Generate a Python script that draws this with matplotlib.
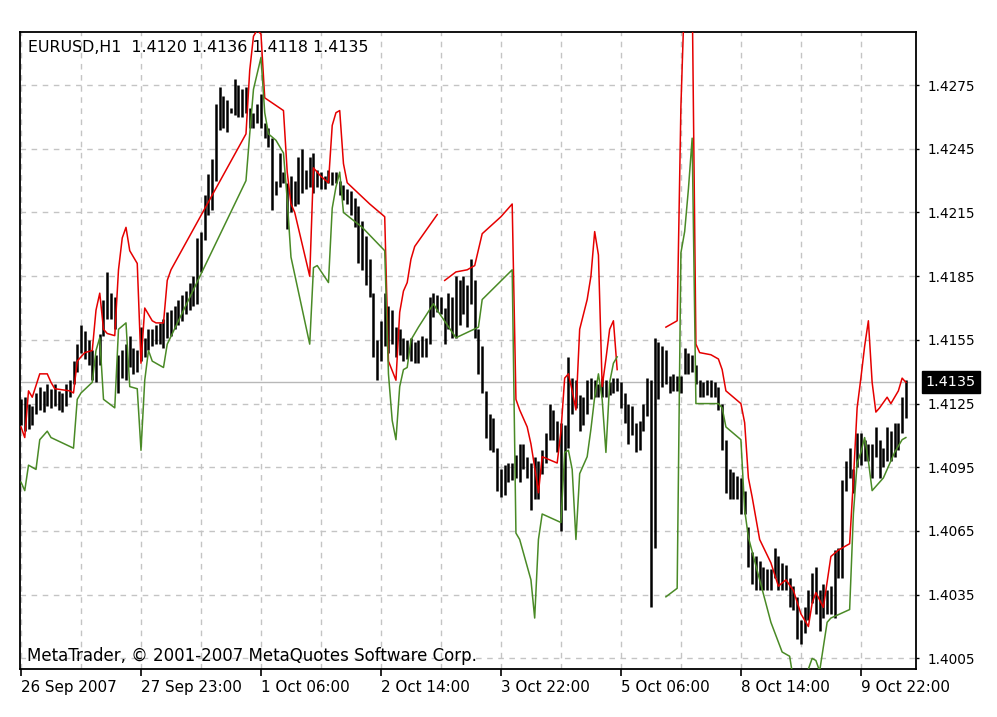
import numpy as np
import matplotlib.pyplot as plt
import matplotlib.transforms as mtransforms

# hourly bars, EURUSD H1 (high / low per bar)
bar_high = [
    1.4127, 1.4128, 1.4125, 1.4124, 1.4130, 1.4133, 1.4131, 1.4134, 1.4132, 1.4134,
    1.4131, 1.4130, 1.4134, 1.4136, 1.4145, 1.4153, 1.4162, 1.4159, 1.4155, 1.4150,
    1.4148, 1.4158, 1.4174, 1.4187, 1.4177, 1.4175, 1.4148, 1.4150, 1.4153, 1.4157,
    1.4151, 1.4150, 1.4161, 1.4156, 1.4160, 1.4160, 1.4162, 1.4163, 1.4165, 1.4168,
    1.4169, 1.4171, 1.4174, 1.4176, 1.4178, 1.4182, 1.4185, 1.4203, 1.4206, 1.4223,
    1.4233, 1.4240, 1.4266, 1.4274, 1.4270, 1.4268, 1.4264, 1.4278, 1.4275, 1.4273,
    1.4274, 1.4264, 1.4262, 1.4266, 1.4271, 1.4257, 1.4255, 1.4250, 1.4230, 1.4243,
    1.4234, 1.4229, 1.4232, 1.4230, 1.4241, 1.4245, 1.4235, 1.4241, 1.4243, 1.4235,
    1.4234, 1.4232, 1.4235, 1.4234, 1.4234, 1.4230, 1.4228, 1.4226, 1.4225, 1.4222,
    1.4218, 1.4211, 1.4204, 1.4193, 1.4177, 1.4155, 1.4164, 1.4177, 1.4171, 1.4169,
    1.4161, 1.4160, 1.4156, 1.4155, 1.4156, 1.4154, 1.4155, 1.4157, 1.4156, 1.4175,
    1.4177, 1.4176, 1.4175, 1.4170, 1.4177, 1.4175, 1.4185, 1.4183, 1.4185, 1.4181,
    1.4193, 1.4183, 1.4160, 1.4152, 1.4131, 1.4120, 1.4118, 1.4104, 1.4094, 1.4096,
    1.4097, 1.4097, 1.4101, 1.4106, 1.4106, 1.4100, 1.4097, 1.4100, 1.4098, 1.4103,
    1.4111, 1.4125, 1.4122, 1.4117, 1.4116, 1.4115, 1.4147, 1.4137, 1.4136, 1.4129,
    1.4128, 1.4136, 1.4137, 1.4136, 1.4134, 1.4137, 1.4136, 1.4135, 1.4137, 1.4137,
    1.4135, 1.4130, 1.4125, 1.4124, 1.4116, 1.4117, 1.4125, 1.4137, 1.4136, 1.4156,
    1.4154, 1.4152, 1.4150, 1.4138, 1.4139, 1.4138, 1.4138, 1.4151, 1.4149, 1.4148,
    1.4143, 1.4136, 1.4135, 1.4136, 1.4136, 1.4135, 1.4133, 1.4125, 1.4108, 1.4094,
    1.4093, 1.4091, 1.4090, 1.4084, 1.4067, 1.4055, 1.4053, 1.4051, 1.4048, 1.4047,
    1.4047, 1.4057, 1.4053, 1.4050, 1.4049, 1.4043, 1.4039, 1.4034, 1.4023, 1.4029,
    1.4037, 1.4045, 1.4048, 1.4037, 1.4040, 1.4037, 1.4039, 1.4056, 1.4057, 1.4089,
    1.4098, 1.4104, 1.4094, 1.4111, 1.4111, 1.4108, 1.4106, 1.4106, 1.4114, 1.4108,
    1.4104, 1.4114, 1.4112, 1.4116, 1.4116, 1.4128, 1.4136,
]
bar_low = [
    1.4115, 1.4112, 1.4113, 1.4115, 1.4120, 1.4122, 1.4121, 1.4124, 1.4123, 1.4124,
    1.4122, 1.4121, 1.4124, 1.4128, 1.4134, 1.4140, 1.4149, 1.4146, 1.4143, 1.4136,
    1.4135, 1.4143, 1.4157, 1.4165, 1.4165, 1.4160, 1.4130, 1.4137, 1.4136, 1.4142,
    1.4139, 1.4140, 1.4145, 1.4147, 1.4150, 1.4152, 1.4153, 1.4153, 1.4151, 1.4156,
    1.4157, 1.4160, 1.4162, 1.4164, 1.4167, 1.4169, 1.4171, 1.4172, 1.4187, 1.4202,
    1.4214, 1.4216, 1.4230, 1.4254, 1.4255, 1.4253, 1.4262, 1.4261, 1.4260, 1.4260,
    1.4262, 1.4255, 1.4255, 1.4257, 1.4255, 1.4250, 1.4246, 1.4216, 1.4223, 1.4227,
    1.4229, 1.4207, 1.4215, 1.4218, 1.4219, 1.4224, 1.4226, 1.4227, 1.4224, 1.4227,
    1.4226, 1.4226, 1.4229, 1.4228, 1.4229, 1.4223, 1.4221, 1.4219, 1.4214, 1.4208,
    1.4191, 1.4188, 1.4181, 1.4175, 1.4147, 1.4136, 1.4145, 1.4152, 1.4149, 1.4153,
    1.4147, 1.4148, 1.4145, 1.4146, 1.4145, 1.4144, 1.4144, 1.4147, 1.4147, 1.4153,
    1.4166, 1.4168, 1.4167, 1.4153, 1.4160, 1.4156, 1.4156, 1.4162, 1.4167, 1.4161,
    1.4172, 1.4156, 1.4139, 1.4130, 1.4109, 1.4103, 1.4102, 1.4084, 1.4081, 1.4082,
    1.4088, 1.4089, 1.4090, 1.4088, 1.4094, 1.4090, 1.4075, 1.4080, 1.4080, 1.4092,
    1.4097, 1.4108, 1.4108, 1.4102, 1.4065, 1.4075, 1.4104, 1.4120, 1.4123, 1.4112,
    1.4115, 1.4120, 1.4127, 1.4128, 1.4128, 1.4128, 1.4128, 1.4129, 1.4130, 1.4131,
    1.4123, 1.4116, 1.4106, 1.4110, 1.4102, 1.4103, 1.4112, 1.4119, 1.4029, 1.4057,
    1.4127, 1.4133, 1.4134, 1.4130, 1.4131, 1.4131, 1.4130, 1.4139, 1.4139, 1.4140,
    1.4134, 1.4128, 1.4128, 1.4129, 1.4128, 1.4128, 1.4122, 1.4103, 1.4083, 1.4080,
    1.4080, 1.4080, 1.4073, 1.4073, 1.4048, 1.4040, 1.4037, 1.4037, 1.4037, 1.4037,
    1.4037, 1.4043, 1.4037, 1.4037, 1.4037, 1.4029, 1.4028, 1.4014, 1.4012, 1.4017,
    1.4023, 1.4031, 1.4026, 1.4018, 1.4024, 1.4026, 1.4026, 1.4024, 1.4043, 1.4043,
    1.4084, 1.4090, 1.4083, 1.4095, 1.4096, 1.4098, 1.4098, 1.4090, 1.4100, 1.4090,
    1.4095, 1.4098, 1.4098, 1.4100, 1.4103, 1.4111, 1.4118,
]

# red indicator line (bar index, price); nan = gap
red_idx = [0, 1, 2, 3, 5, 7, 8, 9, 13, 14, 15, 17, 19, 20, 21, 22, 23, 25, 26, 27,
           28, 29, 31, 32, 33, 35, 36, 38, 39, 40, 60, 61, 62, 63, 64, 65, 70, 71, 72, 73,
           77, 78, 80, 82, 83, 84, 85, 86, 87, 93, 97, 98, 100, 101, 102, 103, 104, 105, 111, 112,
           113, 116, 119, 121, 123, 128, 131, 132, 133, 135, 136, 137, 138, 139, 143, 144, 145, 146, 147, 148,
           149, 151, 152, 153, 154, 155, 156, 157, 158, 159, 160, 172, 175, 176, 177, 179, 180, 181, 184, 186,
           187, 188, 192, 193, 194, 195, 197, 200, 202, 204, 206, 208, 210, 211, 212, 214, 216, 218, 221, 222,
           223, 224, 225, 226, 227, 228, 229, 231, 232, 234, 235, 236]
red_val = [1.4114, 1.4109, 1.4131, 1.4128, 1.4139, 1.4139, 1.4135, 1.4132, 1.4131, 1.4130,
           1.4145, 1.4149, 1.4150, 1.4169, 1.4177, 1.4160, 1.4158, 1.4157, 1.4188, 1.4203,
           1.4208, 1.4197, 1.4191, 1.4144, 1.4170, 1.4164, 1.4163, 1.4163, 1.4183, 1.4188,
           1.4252, 1.4282, 1.4298, 1.4301, 1.4299, 1.4269, 1.4263, 1.4234, 1.4219, 1.4215,
           1.4185, 1.4236, 1.4232, 1.4229, 1.4256, 1.4262, 1.4263, 1.4238, 1.4229, 1.4219,
           1.4213, 1.4145, 1.4136, 1.4168, 1.4178, 1.4182, 1.4193, 1.4199, 1.4214, np.nan,
           1.4183, 1.4187, 1.4188, 1.4190, 1.4205, 1.4213, 1.4219, 1.4127, 1.4122, 1.4114,
           1.4106, 1.4095, 1.4083, 1.4100, 1.4097, 1.4112, 1.4137, 1.4139, 1.4131, 1.4122,
           1.4160, 1.4174, 1.4185, 1.4206, 1.4195, 1.4133, 1.4146, 1.4160, 1.4164, 1.4141,
           np.nan, 1.4161, 1.4164, 1.4265, 1.4320, 1.4320, 1.4153, 1.4149, 1.4148, 1.4146,
           1.4141, 1.4131, 1.4125, 1.4116, 1.4090, 1.4081, 1.4061, 1.4050, 1.4039, 1.4042,
           1.4037, 1.4026, 1.4020, 1.4031, 1.4036, 1.4029, 1.4053, 1.4056, 1.4059, 1.4089,
           1.4123, 1.4137, 1.4152, 1.4164, 1.4135, 1.4121, 1.4123, 1.4128, 1.4125, 1.4131,
           1.4137, 1.4135]

# green indicator line
green_idx = [0, 1, 2, 3, 4, 5, 7, 8, 14, 15, 16, 19, 20, 21, 22, 25, 26, 28, 29, 31,
             32, 33, 34, 35, 38, 39, 60, 61, 62, 64, 65, 66, 68, 70, 71, 72, 77, 78, 79, 82,
             83, 84, 85, 86, 91, 97, 98, 99, 100, 101, 102, 103, 104, 106, 110, 111, 116, 122, 123, 131,
             132, 133, 136, 137, 138, 139, 144, 145, 146, 147, 148, 149, 151, 152, 153, 154, 155, 156, 157, 158,
             159, 160, 172, 175, 176, 177, 178, 179, 180, 186, 187, 188, 192, 193, 194, 197, 200, 203, 205, 206,
             208, 211, 212, 213, 215, 216, 221, 222, 223, 224, 225, 226, 227, 230, 233, 235, 236]
green_val = [1.4088, 1.4084, 1.4096, 1.4095, 1.4094, 1.4108, 1.4112, 1.4109, 1.4104, 1.4127,
             1.4130, 1.4135, 1.4150, 1.4156, 1.4127, 1.4123, 1.4160, 1.4163, 1.4133, 1.4132,
             1.4103, 1.4136, 1.4150, 1.4145, 1.4142, 1.4153, 1.4230, 1.4252, 1.4273, 1.4288,
             1.4262, 1.4252, 1.4249, 1.4243, 1.4221, 1.4194, 1.4153, 1.4189, 1.4190, 1.4182,
             1.4217, 1.4227, 1.4234, 1.4215, 1.4208, 1.4197, 1.4139, 1.4117, 1.4108, 1.4133,
             1.4141, 1.4142, 1.4155, 1.4161, 1.4172, 1.4169, 1.4156, 1.4161, 1.4174, 1.4188,
             1.4064, 1.4061, 1.4042, 1.4024, 1.4061, 1.4073, 1.4069, 1.4102, 1.4103, 1.4094,
             1.4061, 1.4092, 1.4100, 1.4113, 1.4128, 1.4139, 1.4127, 1.4102, 1.4135, 1.4144,
             1.4147, np.nan, 1.4034, 1.4038, 1.4196, 1.4206, 1.4226, 1.4250, 1.4125, 1.4125,
             1.4123, 1.4114, 1.4108, 1.4075, 1.4062, 1.4042, 1.4022, 1.4008, 1.4006, 1.3995,
             1.3990, 1.4005, 1.4004, 1.3999, 1.4022, 1.4024, 1.4028, 1.4073, 1.4097, 1.4102,
             1.4109, 1.4098, 1.4084, 1.4090, 1.4102, 1.4108, 1.4109]

price_ticks = [1.4005, 1.4035, 1.4065, 1.4095, 1.4125, 1.4155, 1.4185, 1.4215, 1.4245, 1.4275]
date_pos = [0, 32, 64, 96, 128, 160, 192, 224]
date_labels = ["26 Sep 2007", "27 Sep 23:00", "1 Oct 06:00", "2 Oct 14:00",
               "3 Oct 22:00", "5 Oct 06:00", "8 Oct 14:00", "9 Oct 22:00"]
grid_pos = [16, 48, 80, 112, 144, 176, 208]
last_price = 1.4135
header = "EURUSD,H1  1.4120 1.4136 1.4118 1.4135"
footer = "MetaTrader, \u00a9 2001-2007 MetaQuotes Software Corp."

plt.rcParams['font.family'] = 'DejaVu Sans'

fig = plt.figure(figsize=(9.97, 7.17), dpi=100)
ax = fig.add_axes([20 / 997, 1 - 669 / 717, 896 / 997, 637 / 717])

x = np.arange(len(bar_high))
ax.axhline(last_price, color='#b8b8b8', lw=1.0, zorder=1)
ax.vlines(x, bar_low, bar_high, color='black', lw=1.8, zorder=3)
ax.plot(red_idx, red_val, color='#e50000', lw=1.1, zorder=4)
ax.plot(green_idx, green_val, color='#4a8a26', lw=1.1, zorder=4)

ax.set_xlim(-0.27, 238.7)
ax.set_ylim(1.4000, 1.4300)

ax.set_xticks(date_pos)
ax.set_xticklabels(date_labels)
ax.set_xticks(grid_pos, minor=True)
ax.set_yticks(price_ticks)
ax.set_yticklabels([f"{p:.4f}" for p in price_ticks])
ax.yaxis.tick_right()

ax.grid(True, which='both', color='#c4c4c4', linestyle=(0, (4, 4)), lw=1.0, zorder=0)
ax.tick_params(axis='x', which='major', length=5, width=1.2, pad=3, labelsize=10.9, colors='black')
ax.tick_params(axis='x', which='minor', length=0)
ax.tick_params(axis='y', length=2.5, width=1.0, pad=6, labelsize=9.8, colors='black')
for lbl in ax.get_xticklabels():
    lbl.set_ha('left')

for s in ax.spines.values():
    s.set_linewidth(1.3)
    s.set_color('black')

ax.text(0.009, 0.976, header, transform=ax.transAxes, ha='left', va='center', fontsize=11.4)
ax.text(0.008, 0.02, footer, transform=ax.transAxes, ha='left', va='center', fontsize=12)

trans = mtransforms.blended_transform_factory(ax.transAxes, ax.transData)
ax.text(1.011, last_price, f"{last_price:.4f}", transform=trans, ha='left', va='center',
        fontsize=10.4, color='white',
        bbox=dict(boxstyle='square,pad=0.28', fc='black', ec='black'))

fig.savefig('out.png', dpi=100)
